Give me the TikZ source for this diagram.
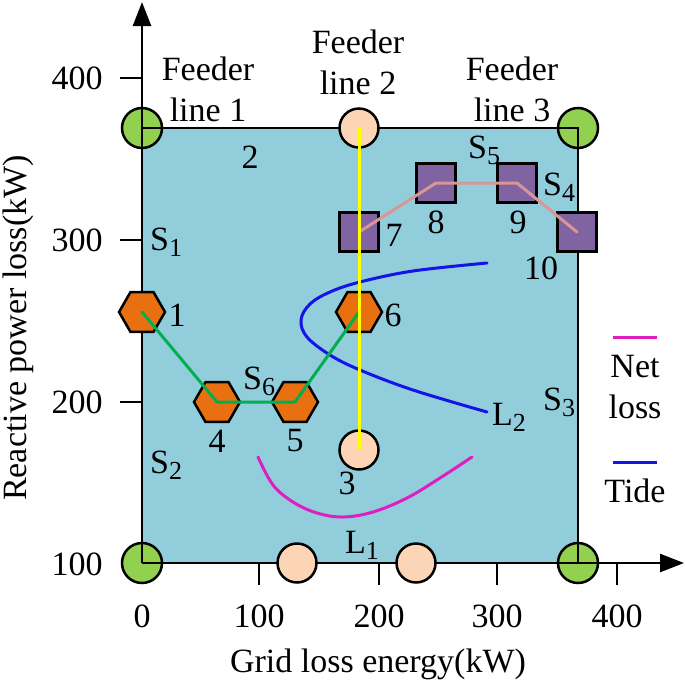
\documentclass[tikz,border=0pt]{standalone}
\usepackage{fontspec}
\setmainfont{Liberation Serif}
\usetikzlibrary{arrows.meta,shapes.geometric}
\definecolor{boxfill}{RGB}{146,205,220}
\definecolor{greenc}{RGB}{146,208,80}
\definecolor{peachc}{RGB}{251,213,181}
\definecolor{purplec}{RGB}{128,100,162}
\definecolor{orangec}{RGB}{232,112,16}
\definecolor{greenl}{RGB}{0,176,80}
\definecolor{pinkl}{RGB}{217,150,148}
\definecolor{magental}{RGB}{222,30,190}
\definecolor{bluel}{RGB}{20,20,230}
\definecolor{yellowl}{RGB}{255,255,0}
\newcommand{\mysub}[1]{\raisebox{-6pt}{\fontsize{26}{26}\selectfont #1}}
\begin{document}
\begin{tikzpicture}[x=1pt,y=-1pt,
  font=\rmfamily\fontsize{34}{41}\selectfont,
  gcirc/.style={circle,draw=black,line width=2.5pt,fill=greenc,minimum size=40pt,inner sep=0pt},
  pcirc/.style={circle,draw=black,line width=2.5pt,fill=peachc,minimum size=39pt,inner sep=0pt},
  hexa/.style={regular polygon,regular polygon sides=6,draw=black,line width=2.5pt,fill=orangec,minimum size=46pt,inner sep=0pt},
  sqbox/.style={rectangle,draw=black,line width=2.5pt,fill=purplec,minimum size=39pt,inner sep=0pt},
  lbl/.style={inner sep=0pt},
  axis/.style={line width=2.5pt,black},
  dataline/.style={line width=3pt,line cap=round,line join=round}]
\useasboundingbox (0,0) rectangle (685,681);

% background box
\fill[boxfill] (142,128) rectangle (578,563);

% corner circles
\node[gcirc] (g1) at (142,128) {};
\node[gcirc] (g2) at (578,128) {};
\node[gcirc] (g3) at (142,563) {};
\node[gcirc] (g4) at (578,563) {};

% box edges and axes
\coordinate (ytip) at (142,2);
\coordinate (xtip) at (684,563);
\draw[axis] (g1.center) -- (g2.center) -- (g4.center);
\draw[axis,-{Triangle[length=24pt,width=18pt]}] (g3.center) -- (ytip);
\draw[axis,-{Triangle[length=24pt,width=18pt]}] (g3.center) -- (xtip);

% ticks
\foreach \yy in {78,240,402} \draw[axis] (120,\yy) -- (142,\yy);
\foreach \xx in {259,379,497,617} \draw[axis] (\xx,563) -- (\xx,585);

% tick labels
\node[lbl] (y400) at (77,78) {400};
\node[lbl] (y300) at (77,240) {300};
\node[lbl] (y200) at (77,402) {200};
\node[lbl] (y100) at (77,564) {100};
\node[lbl] (x0) at (142,616) {0};
\node[lbl] (x100) at (259,616) {100};
\node[lbl] (x200) at (379,616) {200};
\node[lbl] (x300) at (497,616) {300};
\node[lbl] (x400) at (617,616) {400};

% axis titles
\node[lbl] (xtitle) at (378,664) {Grid loss energy(kW)};
\node[lbl,rotate=90] (ytitle) at (18,328) {Reactive power loss(kW)};

% data curves
\draw[dataline,bluel] plot[smooth,tension=0.6] coordinates {(487,263) (413,271) (360,282) (330,292) (310,304) (301,320) (307,337) (330,355) (360,370) (413,390) (487,412)};
\draw[dataline,magental] plot[smooth,tension=0.6] coordinates {(258,457) (273,485) (293,502) (317,513) (343,517) (373,512) (407,498) (440,478) (472,457)};

% hexagons
\node[hexa] (h1) at (142,312) {};
\node[hexa] (h4) at (217,402) {};
\node[hexa] (h5) at (295,402) {};
\node[hexa] (h6) at (359,312) {};

% squares
\node[sqbox] (s7) at (359,232) {};
\node[sqbox] (s8) at (436,183) {};
\node[sqbox] (s9) at (517,183) {};
\node[sqbox] (s10) at (577,232) {};

% peach circles
\node[pcirc] (p2) at (359,128) {};
\node[pcirc] (p3) at (359,450) {};
\node[pcirc] (pa) at (297,563) {};
\node[pcirc] (pb) at (416,563) {};

% connecting lines
\draw[dataline,greenl] (h1.center) -- (h4.center) -- (h5.center) -- (h6.center);
\draw[dataline,pinkl] (s7.center) -- (s8.center) -- (s9.center) -- (s10.center);
\draw[line width=3pt,yellowl] (p2.center) -- (p3.center);

% number labels
\node[lbl] (n1) at (177,315) {1};
\node[lbl] (n2) at (250,157) {2};
\node[lbl] (n3) at (347,483) {3};
\node[lbl] (n4) at (217,441) {4};
\node[lbl] (n5) at (295,441) {5};
\node[lbl] (n6) at (393,315) {6};
\node[lbl] (n7) at (394,235) {7};
\node[lbl] (n8) at (436,222) {8};
\node[lbl] (n9) at (518,222) {9};
\node[lbl] (n10) at (541,268) {10};

% S and L labels
\node[lbl,anchor=base west] (S1) at (150,250) {S\mysub{1}};
\node[lbl,anchor=base west] (S2) at (150,473) {S\mysub{2}};
\node[lbl,anchor=base west] (S3) at (543,410) {S\mysub{3}};
\node[lbl,anchor=base west] (S4) at (543,195) {S\mysub{4}};
\node[lbl,anchor=base west] (S5) at (468,158) {S\mysub{5}};
\node[lbl,anchor=base west] (S6) at (243,389) {S\mysub{6}};
\node[lbl,anchor=base west] (L1) at (345,553) {L\mysub{1}};
\node[lbl,anchor=base west] (L2) at (492,425) {L\mysub{2}};

% feeder labels
\node[lbl,align=center] (f1) at (208,89) {Feeder\\line 1};
\node[lbl,align=center] (f2) at (358,62) {Feeder\\line 2};
\node[lbl,align=center] (f3) at (512,89) {Feeder\\line 3};

% legend
\coordinate (la) at (613,337);
\coordinate (lb) at (657,337);
\coordinate (lc) at (613,462);
\coordinate (ld) at (657,462);
\draw[line width=3pt,magental] (la) -- (lb);
\draw[line width=3pt,bluel] (lc) -- (ld);
\node[lbl,align=center] (legnet) at (635,387) {Net\\loss};
\node[lbl] (legtide) at (635,491) {Tide};
\end{tikzpicture}
\end{document}
